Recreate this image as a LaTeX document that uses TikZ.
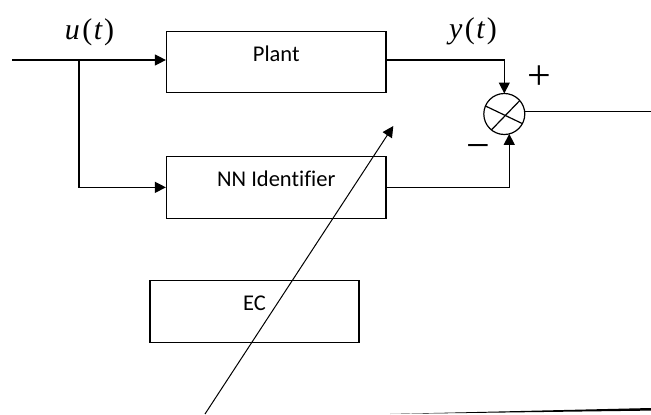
\documentclass[tikz,border=0pt]{standalone}
\usepackage{fontspec}
\setmainfont{Carlito}[Ligatures=NoCommon]
\newfontfamily\mathserif{Liberation Serif}
\usetikzlibrary{arrows.meta, calc}
\tikzset{
  blk/.style   = {draw=black, line width=1.2pt, inner sep=0pt,
                  minimum width=219.5pt, minimum height=61.5pt,
                  text height=14pt, text depth=15.7pt,
                  font=\fontsize{22.5}{27}\selectfont},
  sumnode/.style = {draw=black, circle, line width=1.2pt, inner sep=0pt,
                  outer sep=0pt, minimum size=41pt},
  sig/.style   = {font=\mathserif\fontsize{30}{36}\selectfont, inner sep=0pt},
  sgn/.style   = {font=\mathserif\fontsize{42}{48}\selectfont, inner sep=0pt},
  flow/.style  = {-{Triangle[length=11pt, width=11pt]}, draw=black,
                  line width=1.2pt},
  wire/.style  = {draw=black, line width=1.2pt},
}
\begin{document}
\begin{tikzpicture}[x=1pt, y=-1pt]
  \useasboundingbox (0,0) rectangle (651,415);

  %% ---------------- the blocks ----------------
  \node[blk] (plant) at (276.25, 61.85) {Plant};
  \node[blk] (nn)    at (276.25, 187.35) {NN Identifier};
  \node[blk, minimum width=209pt, minimum height=62pt] (ec)
       at (254.5, 311.7) {EC};
  \node[sumnode] (sum) at (504.3, 114) {};
  \draw[line width=1.2pt] (sum.157) -- (sum.-28);
  \draw[line width=1.2pt] (sum.-129) -- (sum.41);

  %% ---------------- the signals ----------------
  \coordinate (in)  at (12, 60);
  \coordinate (tap) at (79, 60);
  \coordinate (out) at (651, 112);
  \node[sig] (ulbl) at (89.5, 32)
       {\itshape u\/\upshape\kern2.5pt(\kern1.5pt\itshape t\/\upshape\kern1.5pt)};
  \node[sig] (ylbl) at (473, 31)
       {\itshape y\/\upshape\kern2.5pt(\kern1.5pt\itshape t\/\upshape\kern1.5pt)};
  \node[sgn] (plus)  at (539, 77.5) {+};
  \node[sgn] (minus) at (478, 152.5) {−};

  \draw[flow] (in) -- (in -| plant.west);
  \draw[flow] (tap) |- (nn.west);
  \draw[flow] (plant.east |- in) -| (sum.north);
  \draw[flow] (nn.east) -| (sum.-76);
  \draw[wire] (sum.6) -- (sum.6 -| out);

  %% ---------------- the tuning line ----------------
  \coordinate (tune)    at (205, 414);
  \coordinate (tunetip) at (393.3, 126);
  \draw[flow, line width=1pt] (tune) -- (tunetip);

  \coordinate (bl) at (390, 414);
  \coordinate (br) at (651, 409.3);
  \fill (bl) -- ($(br)+(0,-1.3)$) -- ($(br)+(0,1.3)$) -- cycle;
\end{tikzpicture}
\end{document}
